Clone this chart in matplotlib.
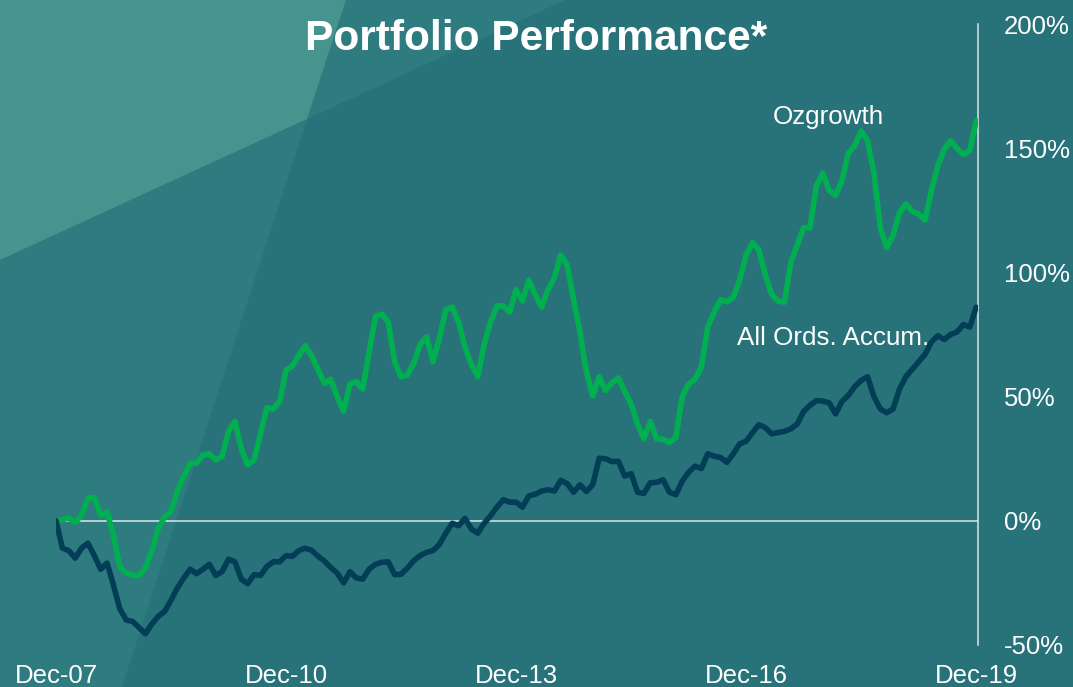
import numpy as np
import matplotlib
matplotlib.use("Agg")
import matplotlib.pyplot as plt
from matplotlib.patches import Polygon

plt.rcParams['font.family'] = ['Liberation Sans', 'DejaVu Sans']

# ---------------- data (monthly, Dec-07 .. Dec-19, % cumulative return) ----------------
ozgrowth = [
    0, 0.5, 1.1, -0.7, 2.4, 9, 9.5, 2, 3.5, -6,
    -18.5, -21, -22, -22, -19, -12, -3, 1.5, 3.8, 12,
    18, 23.2, 23.2, 26.5, 27, 24.5, 26, 36, 40, 29,
    22.5, 24.5, 35, 45.5, 45, 48, 60.7, 62.3, 66.5, 70.5,
    66.5, 61, 55.4, 57, 50, 44, 55, 56, 53, 68,
    82.3, 83.2, 80, 64, 58, 58.7, 63.5, 71, 74, 64,
    73.5, 85, 86, 80, 70, 63, 58, 71, 80, 86.5,
    86.5, 84, 93, 88.5, 97, 91, 86, 93, 98, 107,
    103, 89, 76, 60, 50.2, 58, 52.5, 55.5, 57.5, 52,
    47, 39, 33, 40, 33, 32.8, 31.5, 33.5, 50, 55,
    57, 62, 78, 84, 89, 88.2, 90, 97, 107, 112,
    109, 99, 91, 88.5, 88, 104, 111, 118, 118, 135,
    140, 133, 131, 137, 148, 151, 157, 153, 140, 118,
    110, 115, 124, 127.5, 124.5, 123.5, 121, 133, 143, 149.5,
    153, 150, 147.5, 149, 161,
]
all_ords = [
    0, -11, -12, -15, -11, -9, -14, -19.5, -17, -26,
    -35.5, -40, -40.5, -43, -45.5, -41.5, -38.5, -36.5, -32, -27,
    -23, -19.5, -21.3, -19.5, -17.5, -22, -20.4, -15.5, -16.5, -23.5,
    -25.3, -21.7, -22, -18.4, -16.5, -16.5, -14, -14.3, -12, -11,
    -11.9, -14.2, -16.2, -18.8, -21, -25, -20.5, -23, -23.5, -19.5,
    -17.5, -16.7, -16.5, -21.7, -21.5, -19, -16, -14, -12.7, -12,
    -9.5, -5, -1, -2, 1, -3.3, -5, -1, 2, 5.5,
    8.5, 7.5, 7.5, 5.5, 10, 10.7, 12, 12.5, 12, 16.3,
    15, 11.5, 14.5, 11.8, 14.5, 25.2, 25, 23.8, 24, 18,
    19, 11.5, 11, 15.3, 15.5, 16.5, 11.5, 10.5, 16, 19.5,
    22, 21, 27, 26, 25.5, 23.5, 27, 31, 32, 35.5,
    38.7, 37.5, 35, 35.5, 36, 37, 39, 44, 46.5, 48.4,
    48.2, 47.5, 43, 48, 50.5, 54, 56.5, 58, 50, 45,
    43.5, 45, 53, 58, 61, 64, 67, 72, 74.5, 73,
    75, 76, 79, 78, 86,
]
x_tick_months = [0, 36, 72, 108, 144]
x_tick_labels = ['Dec-07', 'Dec-10', 'Dec-13', 'Dec-16', 'Dec-19']
y_ticks = [-50, 0, 50, 100, 150, 200]
y_tick_labels = ['-50%', '0%', '50%', '100%', '150%', '200%']

months = np.arange(len(ozgrowth))

# ---------------- figure ----------------
W, H = 1073, 687
fig = plt.figure(figsize=(W / 100, H / 100), dpi=100)
BG_DARK = '#28737A'
BG_MID = '#2E7B80'
BG_LIGHT = '#47948F'
fig.patch.set_facecolor(BG_DARK)

# background layer (pixel coordinates, y downward)
bg = fig.add_axes([0, 0, 1, 1], zorder=0)
bg.set_xlim(0, W)
bg.set_ylim(H, 0)
bg.axis('off')
bg.add_patch(Polygon([(0, 260), (307, 119), (122, 687), (0, 687)], closed=True,
                     facecolor=BG_MID, edgecolor='none'))
bg.add_patch(Polygon([(346, 0), (565, 0), (307, 119)], closed=True,
                     facecolor=BG_MID, edgecolor='none'))
bg.add_patch(Polygon([(0, 0), (346, 0), (307, 119), (0, 260)], closed=True,
                     facecolor=BG_LIGHT, edgecolor='none'))

left, right = 56 / W, 978 / W
top, bottom = 1 - 24 / H, 1 - 645 / H
ax = fig.add_axes([left, bottom, right - left, top - bottom], zorder=1)
ax.set_facecolor('none')

ax.axhline(0, color='#dce8e8', lw=1.1, zorder=1)
ax.plot(months, ozgrowth, color='#00B050', lw=4.0, solid_joinstyle='round',
        solid_capstyle='round', zorder=3)
ax.plot(months, all_ords, color='#023E56', lw=4.0, solid_joinstyle='round',
        solid_capstyle='round', zorder=3)

ax.set_xlim(0, 922 / 6.39)
ax.set_ylim(-50, 200)

for s in ['top', 'left', 'bottom']:
    ax.spines[s].set_visible(False)
ax.spines['right'].set_color('#dce8e8')
ax.spines['right'].set_linewidth(1.1)

ax.set_xticks(x_tick_months)
ax.set_xticklabels(x_tick_labels)
ax.set_yticks(y_ticks)
ax.set_yticklabels(y_tick_labels)
ax.yaxis.tick_right()
ax.tick_params(axis='x', length=0, pad=14, labelsize=18.5, labelcolor='white')
ax.tick_params(axis='y', length=0, pad=18.5, labelsize=18.5, labelcolor='white')
for lab in ax.get_yticklabels():
    lab.set_horizontalalignment('left')

fig.text(536.5 / W, 1 - 50 / H, 'Portfolio Performance*', color='white',
         fontsize=30.6, fontweight='bold', ha='center', va='baseline', zorder=5)
fig.text(773 / W, 1 - 124 / H, 'Ozgrowth', color='white', fontsize=18.7,
         ha='left', va='baseline', zorder=5)
fig.text(737 / W, 1 - 345 / H, 'All Ords. Accum.', color='white', fontsize=18.7,
         ha='left', va='baseline', zorder=5)

fig.savefig('out.png', dpi=100, facecolor=fig.get_facecolor())
